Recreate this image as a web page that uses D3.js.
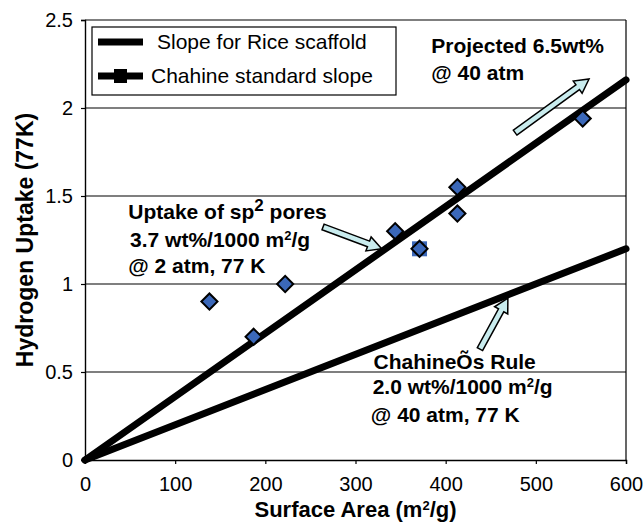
<!DOCTYPE html>
<html>
<head>
<meta charset="utf-8">
<script src="https://cdn.jsdelivr.net/npm/d3@7"></script>
<style>
  body { margin: 0; background: #fff; }
  text { font-family: "Liberation Sans", Arial, sans-serif; fill: #000; }
</style>
</head>
<body>
<svg id="chart" width="644" height="527"></svg>
<script>
// measured points (surface area m2/g, uptake wt%)
const areaVals = [138, 187, 222, 344, 371, 413, 413, 552]
const uptakeVals = [0.9, 0.7, 1.0, 1.3, 1.2, 1.55, 1.4, 1.94]
const highlighted = [371] // the point drawn with a square behind it

// slope lines
const lineX = [0, 600]
const riceY = [0, 2.16]
const chahineY = [0, 1.2]

const xTicks = [0, 100, 200, 300, 400, 500, 600]
const yTicks = [0, 0.5, 1, 1.5, 2, 2.5]

const legendLabels = ["Slope for Rice scaffold", "Chahine standard slope"]

// annotation arrows, [tail, head] in data units
const arrows = [
  [[477, 1.86], [559, 2.165]],
  [[264, 1.324], [329, 1.2]],
  [[438, 0.63], [469, 0.92]]
]

const svg = d3.select("#chart")
const plot = {left: 85, right: 626, top: 20, bottom: 460}

const x = d3.scaleLinear().domain([0, 600]).range([plot.left, plot.right])
const y = d3.scaleLinear().domain([0, 2.5]).range([plot.bottom, plot.top])

// gridlines
svg.append("g")
  .selectAll("line")
  .data(yTicks.slice(1))
  .enter()
  .append("line")
  .attr("x1", plot.left).attr("x2", plot.right)
  .attr("y1", d => y(d)).attr("y2", d => y(d))
  .attr("stroke", "#000").attr("stroke-width", 1.2)

// right border
svg.append("line")
  .attr("x1", plot.right).attr("x2", plot.right)
  .attr("y1", plot.top).attr("y2", plot.bottom)
  .attr("stroke", "#000").attr("stroke-width", 1.2)

// axes
const xAxis = svg.append("g")
  .attr("transform", `translate(0,${plot.bottom})`)
  .call(d3.axisBottom(x).tickValues(xTicks).tickSize(4).tickPadding(8).tickFormat(d3.format("d")))
const yAxis = svg.append("g")
  .attr("transform", `translate(${plot.left},0)`)
  .call(d3.axisLeft(y).tickValues(yTicks).tickSize(4).tickPadding(8).tickFormat(d => d))

;[xAxis, yAxis].forEach(a => {
  a.select(".domain").attr("stroke", "#000").attr("stroke-width", 1.4)
  a.selectAll(".tick line").attr("stroke", "#000").attr("stroke-width", 1.2)
  a.selectAll("text").style("font-family", "'Liberation Sans', Arial, sans-serif").style("font-size", "20px").attr("fill", "#000")
})
xAxis.selectAll("text").attr("dy", "0.95em")

// slope lines
const slopeLine = d3.line().x(d => x(d[0])).y(d => y(d[1]))
;[chahineY, riceY].forEach(ys => {
  svg.append("path")
    .attr("d", slopeLine(lineX.map((v, i) => [v, ys[i]])))
    .attr("fill", "none")
    .attr("stroke", "#000")
    .attr("stroke-width", 7)
    .attr("stroke-linecap", "round")
})

// points
const blue = "#3b68b9"
svg.append("g")
  .selectAll("rect")
  .data(areaVals.map((v, i) => [v, uptakeVals[i]]).filter(d => highlighted.includes(d[0])))
  .enter()
  .append("rect")
  .attr("x", d => x(d[0]) - 7.5).attr("y", d => y(d[1]) - 7.5)
  .attr("width", 15).attr("height", 15)
  .attr("fill", blue)

const diamond = d3.symbol().type(d3.symbolSquare).size(130)
svg.append("g")
  .selectAll("path")
  .data(areaVals.map((v, i) => [v, uptakeVals[i]]))
  .enter()
  .append("path")
  .attr("d", diamond)
  .attr("transform", d => `translate(${x(d[0])},${y(d[1])}) rotate(45)`)
  .attr("fill", blue)
  .attr("stroke", "#000")
  .attr("stroke-width", 2)

// block arrows
const arrowPath = (a) => {
  const [x1, y1] = [x(a[0][0]), y(a[0][1])]
  const [x2, y2] = [x(a[1][0]), y(a[1][1])]
  const len = Math.hypot(x2 - x1, y2 - y1)
  const ux = (x2 - x1) / len, uy = (y2 - y1) / len
  const nx = -uy, ny = ux
  const sw = 3, hw = 7.5, hl = 14
  const bx = x2 - ux * hl, by = y2 - uy * hl
  const pts = [
    [x1 + nx * sw, y1 + ny * sw],
    [bx + nx * sw, by + ny * sw],
    [bx + nx * hw, by + ny * hw],
    [x2, y2],
    [bx - nx * hw, by - ny * hw],
    [bx - nx * sw, by - ny * sw],
    [x1 - nx * sw, y1 - ny * sw]
  ]
  return "M" + pts.map(p => p.join(",")).join("L") + "Z"
}
svg.append("g")
  .selectAll("path")
  .data(arrows)
  .enter()
  .append("path")
  .attr("d", arrowPath)
  .attr("fill", "#c9ecee")
  .attr("stroke", "#000")
  .attr("stroke-width", 1.5)
  .attr("stroke-linejoin", "miter")

// annotation text
const note = (px, py, parts, size = 21) => {
  const t = svg.append("text")
    .attr("x", x(px)).attr("y", y(py))
    .style("font-size", size + "px").style("font-weight", "bold")
  parts.forEach(p => {
    if (typeof p === "string") t.append("tspan").text(p)
    else t.append("tspan").attr("dy", p.dy).style("font-size", p.size + "px").text(p.t)
  })
  return t
}

note(384, 2.3125, ["Projected 6.5wt%"])
note(384, 2.159, ["@ 40 atm"])

note(48, 1.369, ["Uptake of sp", {t: "2", dy: -8, size: 17}, {t: " pores", dy: 8, size: 21}])
note(50, 1.21, ["3.7 wt%/1000 m", {t: "2", dy: -7, size: 13}, {t: "/g", dy: 7, size: 21}])
note(48, 1.0625, ["@ 2 atm, 77 K"])

note(320, 0.515, ["ChahineÕs Rule"])
note(319, 0.375, ["2.0 wt%/1000 m", {t: "2", dy: -7, size: 13}, {t: "/g", dy: 7, size: 21}])
note(317, 0.218, ["@ 40 atm, 77 K"])

// axis titles
svg.append("text")
  .attr("x", (plot.left + plot.right) / 2).attr("y", 517)
  .attr("text-anchor", "middle")
  .style("font-size", "22px").style("font-weight", "bold")
  .call(t => {
    t.append("tspan").text("Surface Area (m")
    t.append("tspan").attr("dy", -7).style("font-size", "13px").text("2")
    t.append("tspan").attr("dy", 7).text("/g)")
  })

svg.append("text")
  .attr("transform", `translate(33,${(plot.top + plot.bottom) / 2}) rotate(-90)`)
  .attr("text-anchor", "middle")
  .style("font-size", "23px").style("font-weight", "bold")
  .text("Hydrogen Uptake (77K)")

// legend
const legend = svg.append("g")
legend.append("rect")
  .attr("x", 92).attr("y", 27).attr("width", 304).attr("height", 68)
  .attr("fill", "#fff").attr("stroke", "#000").attr("stroke-width", 1.2)
legend.selectAll("line")
  .data(legendLabels)
  .enter()
  .append("line")
  .attr("x1", 98).attr("x2", 143)
  .attr("y1", (d, i) => 42 + i * 34).attr("y2", (d, i) => 42 + i * 34)
  .attr("stroke", "#000").attr("stroke-width", 7)
legend.append("rect")
  .attr("x", 114).attr("y", 69).attr("width", 13).attr("height", 14)
  .attr("fill", "#000")
legend.selectAll("text")
  .data(legendLabels)
  .enter()
  .append("text")
  .attr("x", (d, i) => i === 0 ? 157 : 151)
  .attr("y", (d, i) => 49 + i * 34)
  .style("font-size", "21px")
  .text(d => d)
</script>
</body>
</html>
